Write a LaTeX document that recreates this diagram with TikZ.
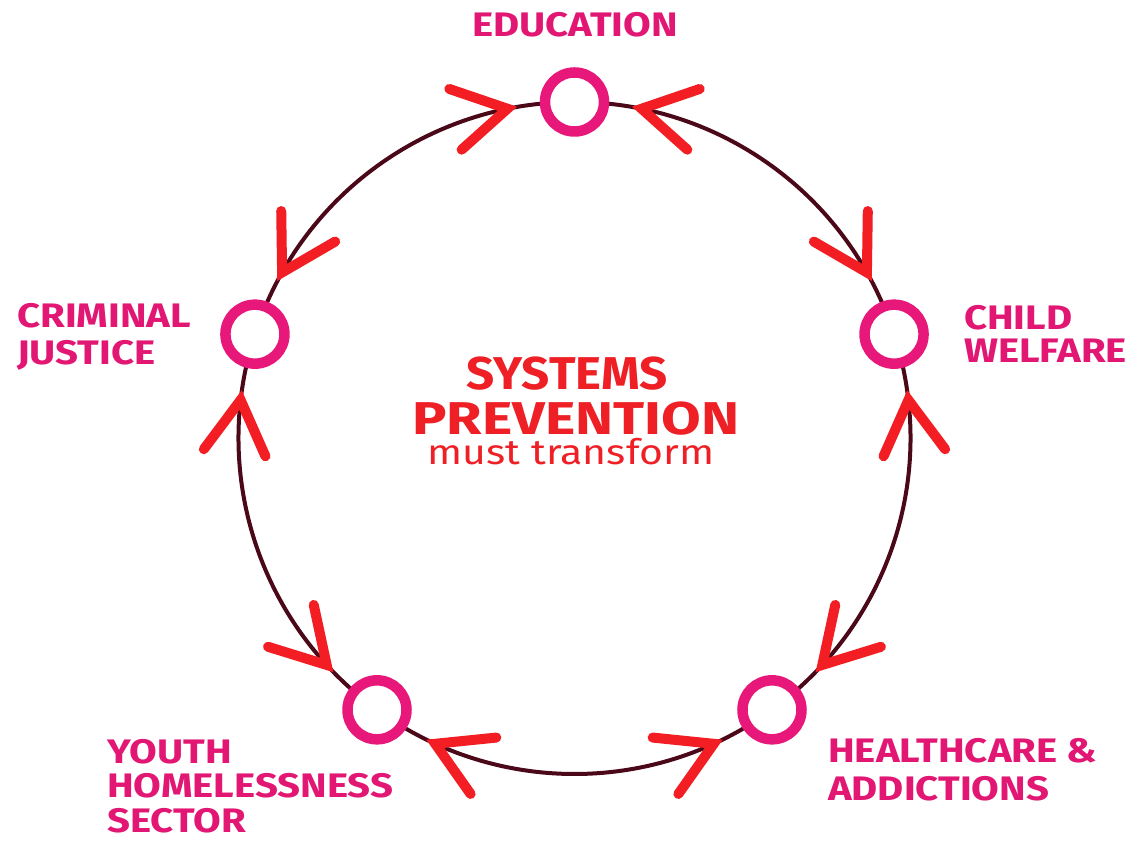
\documentclass[tikz,border=0pt]{standalone}
\usepackage{fontspec}
\setmainfont{Fira Sans}
\newfontfamily\labfont{Fira Sans}[FakeStretch=1.18]
\usetikzlibrary{decorations.markings,backgrounds}
\definecolor{ringpink}{RGB}{232,24,122}
\definecolor{labelpink}{RGB}{226,22,115}
\definecolor{arrowred}{RGB}{242,30,36}
\definecolor{titlered}{RGB}{238,32,38}
\definecolor{arcmaroon}{RGB}{75,8,25}
\tikzset{
  hub/.style={circle, draw=ringpink, line width=10.5pt, fill=white, minimum size=59pt, inner sep=0pt},
  lab/.style={text=labelpink, font=\labfont\fontsize{34}{35}\selectfont\bfseries, align=left, inner sep=0pt, anchor=north west},
  chev/.style={draw=arrowred, line width=10pt, line cap=round, line join=miter},
  arcline/.style={draw=arcmaroon, line width=4pt,
    postaction={decorate, decoration={markings,
      mark=at position 0.16 with {\draw[chev] (53pt,31pt) -- (0pt,0pt) -- (53pt,-31pt);},
      mark=at position 0.84 with {\draw[chev] (-53pt,31pt) -- (0pt,0pt) -- (-53pt,-31pt);}}}},
  ttl/.style={text=titlered, inner sep=0pt, anchor=base}
}
\begin{document}
\begin{tikzpicture}[x=1pt,y=1pt]
\useasboundingbox (0,0) rectangle (1136,841);
\begin{scope}[shift={(574.5,403)}]
  \node[hub] (E)  at (90:336pt)   {};
  \node[hub] (CW) at (18:336pt)   {};
  \node[hub] (H)  at (-54:336pt)  {};
  \node[hub] (Y)  at (-126:336pt) {};
  \node[hub] (CJ) at (162:336pt)  {};
\end{scope}
\begin{pgfonlayer}{background}
  \fill[white] (0,0) rectangle (1136,841);
  \draw[arcline] (E.center)  arc[start angle=90,  end angle=18,   radius=336pt];
  \draw[arcline] (CW.center) arc[start angle=18,  end angle=-54,  radius=336pt];
  \draw[arcline] (H.center)  arc[start angle=-54, end angle=-126, radius=336pt];
  \draw[arcline] (Y.center)  arc[start angle=234, end angle=162,  radius=336pt];
  \draw[arcline] (CJ.center) arc[start angle=162, end angle=90,   radius=336pt];
\end{pgfonlayer}
\node[lab, anchor=north] (lE) at (575,829) {EDUCATION};
\node[lab, font=\labfont\fontsize{34}{33}\selectfont\bfseries] (lCW) at (964,536) {CHILD\\WELFARE};
\node[lab, font=\labfont\fontsize{34}{37}\selectfont\bfseries] (lCJ) at (17,538) {CRIMINAL\\JUSTICE};
\node[lab, font=\labfont\fontsize{34}{34.5}\selectfont\bfseries] (lY) at (107,102) {YOUTH\\HOMELESSNESS\\SECTOR};
\node[lab, font=\labfont\fontsize{34}{38}\selectfont\bfseries] (lH) at (828,103) {HEALTHCARE \&\\ADDICTIONS};
\node[ttl, font=\fontsize{46}{46}\selectfont\bfseries] (t1) at (567,451) {\scalebox{1.07}[1]{SYSTEMS}};
\node[ttl, font=\fontsize{46}{46}\selectfont\bfseries] (t2) at (576,406) {\scalebox{1.25}[1]{PREVENTION}};
\node[ttl, font=\fontsize{35}{35}\selectfont] (t3) at (571,376) {\scalebox{1.17}[1]{must transform}};
\end{tikzpicture}
\end{document}
